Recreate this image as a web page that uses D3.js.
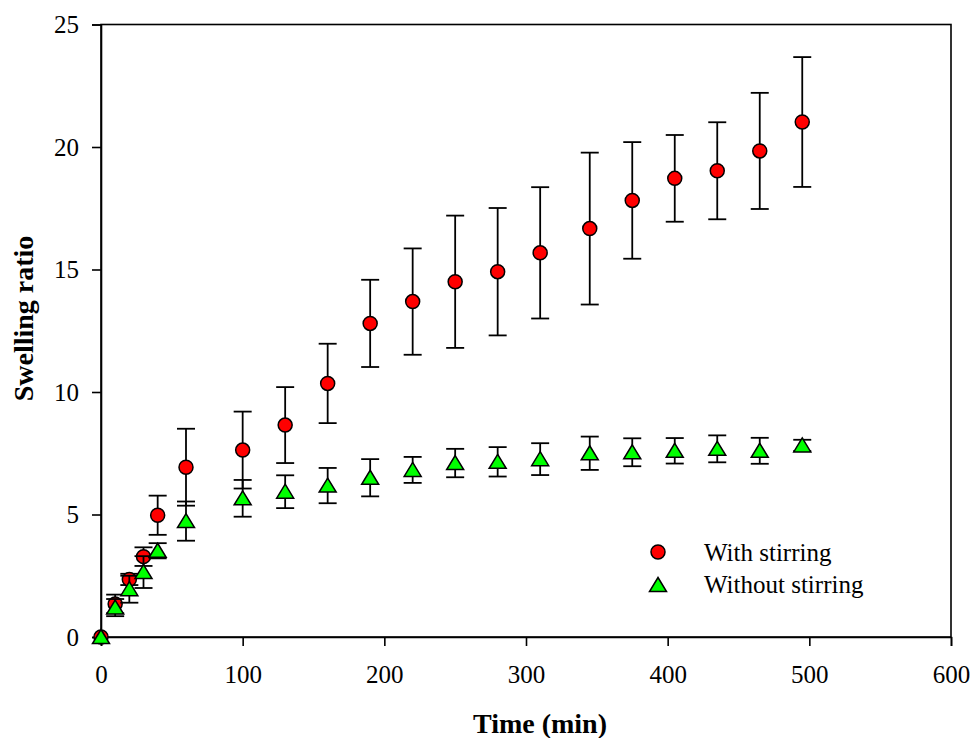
<!DOCTYPE html>
<html><head><meta charset="utf-8">
<script src="https://cdn.jsdelivr.net/npm/d3@7"></script>
<style>body{margin:0;background:#fff}svg{display:block}</style>
</head><body>
<svg id="c" width="973" height="738"></svg>
<script>
const times = [0,10,20,30,40,60,100,130,160,190,220,250,280,310,345,375,405,435,465,495];
const withStirring = [0,1.35,2.35,3.28,4.97,6.93,7.63,8.65,10.35,12.8,13.69,14.5,14.91,15.68,16.67,17.82,18.72,19.03,19.84,21.02];
const withStirringErr = [0,0.38,0.23,0.38,0.8,1.57,1.57,1.55,1.62,1.78,2.17,2.7,2.6,2.68,3.1,2.38,1.77,1.98,2.37,2.65];
const withoutStirring = [0,1.2,1.95,2.65,3.52,4.73,5.66,5.93,6.18,6.5,6.82,7.1,7.15,7.26,7.5,7.54,7.6,7.68,7.6,7.82];
const withoutStirringErr = [0,0.35,0.55,0.65,0.31,0.8,0.75,0.67,0.72,0.76,0.53,0.58,0.6,0.65,0.68,0.57,0.52,0.55,0.53,0.23];
const xTicks = [0,100,200,300,400,500,600];
const yTicks = [0,5,10,15,20,25];
const seriesNames = ["With stirring","Without stirring"];

const svg = d3.select("#c");
const L=101, R=951, T=24.5, B=637;
const x = d3.scaleLinear().domain([0,600]).range([L,R]);
const y = d3.scaleLinear().domain([0,25]).range([B,T]);
const font = "'Liberation Serif','Times New Roman',serif";

// frame
svg.append("rect").attr("x",L).attr("y",T).attr("width",R-L).attr("height",B-T)
  .attr("fill","none").attr("stroke","#000").attr("stroke-width",1.6);

const xa = svg.append("g").attr("transform",`translate(0,${B})`)
  .call(d3.axisBottom(x).tickValues(xTicks).tickSize(9).tickPadding(19).tickFormat(d3.format("d")));
const ya = svg.append("g").attr("transform",`translate(${L},0)`)
  .call(d3.axisLeft(y).tickValues(yTicks).tickSize(9).tickPadding(13).tickFormat(d3.format("d")));
[xa,ya].forEach(a=>{
  a.attr("font-family",font).attr("font-size",25);
  a.select(".domain").attr("stroke","#000").attr("stroke-width",1.6);
  a.selectAll(".tick line").attr("stroke","#000").attr("stroke-width",1.6);
  a.selectAll(".tick text").attr("fill","#000").style("font-family",font).style("font-size","25px");
});

function drawSeries(vals, errs, type, fill){
  const g = svg.append("g");
  const cw = 9;
  times.forEach((t,i)=>{
    const e = errs[i];
    if (e<=0) return;
    const cx = x(t), y1=y(vals[i]+e), y2=y(vals[i]-e);
    g.append("line").attr("x1",cx).attr("x2",cx).attr("y1",y1).attr("y2",y2).attr("stroke","#000").attr("stroke-width",1.8);
    g.append("line").attr("x1",cx-cw).attr("x2",cx+cw).attr("y1",y1).attr("y2",y1).attr("stroke","#000").attr("stroke-width",1.8);
    g.append("line").attr("x1",cx-cw).attr("x2",cx+cw).attr("y1",y2).attr("y2",y2).attr("stroke","#000").attr("stroke-width",1.8);
  });
  times.forEach((t,i)=>{
    marker(g, x(t), y(vals[i]), type, fill);
  });
}
function marker(g, cx, cy, type, fill){
  if(type==="circle"){
    g.append("circle").attr("cx",cx).attr("cy",cy).attr("r",7).attr("fill",fill).attr("stroke","#000").attr("stroke-width",1.5);
  } else {
    const p = `M${cx},${cy-7.5}L${cx+8.5},${cy+6.5}L${cx-8.5},${cy+6.5}Z`;
    g.append("path").attr("d",p).attr("fill",fill).attr("stroke","#000").attr("stroke-width",1.5).attr("stroke-linejoin","miter");
  }
}
drawSeries(withStirring, withStirringErr, "circle", "#ff0000");
drawSeries(withoutStirring, withoutStirringErr, "triangle", "#00ff00");

// legend
const lg = svg.append("g");
marker(lg, 658, 552, "circle", "#ff0000");
marker(lg, 658, 585, "triangle", "#00ff00");
lg.append("text").attr("x",704).attr("y",561).text(seriesNames[0]).style("font-family",font).style("font-size","25px");
lg.append("text").attr("x",704).attr("y",593).text(seriesNames[1]).style("font-family",font).style("font-size","25px");

// axis titles
svg.append("text").attr("x",540).attr("y",733).attr("text-anchor","middle")
  .style("font-family",font).style("font-size","28px").style("font-weight","bold").text("Time (min)");
svg.append("text").attr("transform",`translate(33,318.5) rotate(-90)`).attr("text-anchor","middle")
  .style("font-family",font).style("font-size","28px").style("font-weight","bold").text("Swelling ratio");
</script>
</body></html>
